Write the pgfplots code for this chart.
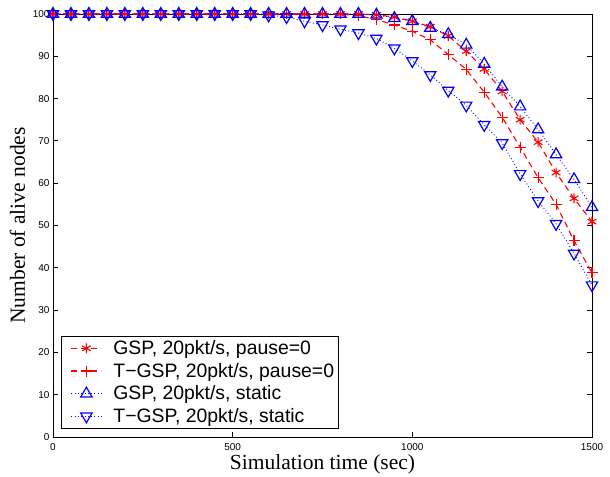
\documentclass[border=0pt]{standalone}
\usepackage{fontspec}
\setmainfont{Liberation Serif}
\newfontfamily\arial{Liberation Sans}
\usepackage{pgfplots}
\pgfplotsset{compat=1.18}
\begin{document}
\begin{tikzpicture}
\begin{axis}[
  scale only axis,
  width=539pt, height=423pt,
  xmin=0, xmax=1500, ymin=0, ymax=100,
  xtick={0,500,1000,1500},
  ytick={0,10,...,100},
  clip=false,
  /pgf/number format/assume math mode=true,
  /pgf/number format/1000 sep={},
  tick label style={font=\arial\fontsize{10}{12}\selectfont},
  xticklabel style={anchor=base, yshift=-13.7pt},
  scaled ticks=false,
  tick align=inside,
  major tick length=5pt,
  axis line style={line width=0.8pt},
  every tick/.style={black, line width=0.8pt},
  xlabel={Simulation time (sec)},
  ylabel={Number of alive nodes},
  label style={font=\fontsize{21.5}{24}\selectfont},
  xlabel style={at={(axis description cs:0.5,0)}, anchor=base, yshift=-32pt},
  ylabel style={at={(axis description cs:-0.0659,0.5)}, anchor=center},
  legend style={at={(0,0)}, anchor=south west, xshift=8pt, yshift=8.5pt,
    font=\arial\fontsize{19.4}{22}\selectfont, draw=black, line width=0.8pt,
    inner sep=2pt, row sep=3.1pt, cells={anchor=west}},
  legend image code/.code={%
    \path[draw=none] (-2pt,0pt) -- (46pt,0pt);
    \draw[#1] (6pt,0pt) -- (36pt,0pt);
    \draw[#1, only marks] plot coordinates {(21pt,0pt)};},
]
\addplot[red, line width=1.1pt, dash pattern=on 6pt off 4pt,
  mark=asterisk, mark options={solid, line width=1.1pt, mark size=5pt}]
coordinates {
(0,100)(50,100)(100,100)(150,100)(200,100)(250,100)(300,100)(350,100)(400,100)
(450,100)(500,100)(550,100)(600,100)(650,100)(700,100)(750,100)(800,100)(850,100)
(900,99.8)(950,99.3)(1000,98.3)(1050,97.0)(1100,94.8)(1150,91.2)(1200,87.0)
(1250,81.7)(1300,75.0)(1350,69.7)(1400,62.5)(1450,56.4)(1500,50.9)};
\addlegendentry{GSP, 20pkt/s, pause=0}
\addplot[red, line width=1.1pt, dash pattern=on 6pt off 4pt,
  mark=+, mark options={solid, line width=1.1pt, mark size=5.5pt}]
coordinates {
(0,100)(50,100)(100,100)(150,100)(200,100)(250,100)(300,100)(350,100)(400,100)
(450,100)(500,100)(550,100)(600,100)(650,100)(700,100)(750,100)(800,100)
(850,99.6)(900,98.7)(950,97.4)(1000,95.9)(1050,93.9)(1100,90.4)(1150,86.9)
(1200,81.5)(1250,75.6)(1300,68.5)(1350,61.3)(1400,55.0)(1450,46.4)(1500,38.8)};
\addlegendentry{T−GSP, 20pkt/s, pause=0}
\addplot[blue, line width=0.9pt, dash pattern=on 0.9pt off 2.4pt,
  mark=triangle, mark options={solid, line width=1.2pt, mark size=6.5pt}]
coordinates {
(0,100)(50,100)(100,100)(150,100)(200,100)(250,100)(300,100)(350,100)(400,100)
(450,100)(500,100)(550,100)(600,100)(650,100)(700,100)(750,100)(800,100)(850,100)
(900,99.8)(950,99.0)(1000,98.3)(1050,96.7)(1100,95.2)(1150,92.7)(1200,88.2)
(1250,82.8)(1300,78.1)(1350,72.7)(1400,66.8)(1450,60.9)(1500,54.3)};
\addlegendentry{GSP, 20pkt/s, static}
\addplot[blue, line width=0.9pt, dash pattern=on 0.9pt off 2.4pt,
  mark=triangle, mark options={solid, rotate=180, line width=1.2pt, mark size=6.5pt}]
coordinates {
(0,100)(50,100)(100,100)(150,100)(200,100)(250,100)(300,100)(350,100)(400,100)
(450,100)(500,100)(550,100)(600,99.7)(650,99.3)(700,98.3)(750,97.4)(800,96.4)
(850,95.5)(900,94.2)(950,91.9)(1000,88.9)(1050,85.6)(1100,81.9)(1150,78.4)
(1200,73.8)(1250,69.5)(1300,62.2)(1350,55.8)(1400,50.4)(1450,43.4)(1500,35.9)};
\addlegendentry{T−GSP, 20pkt/s, static}
\end{axis}
\path (current axis.south west) ++(-53pt,-39pt) coordinate (bbA);
\path (current axis.north east) ++(18pt,14pt) coordinate (bbB);
\useasboundingbox (bbA) rectangle (bbB);
\end{tikzpicture}
\end{document}
